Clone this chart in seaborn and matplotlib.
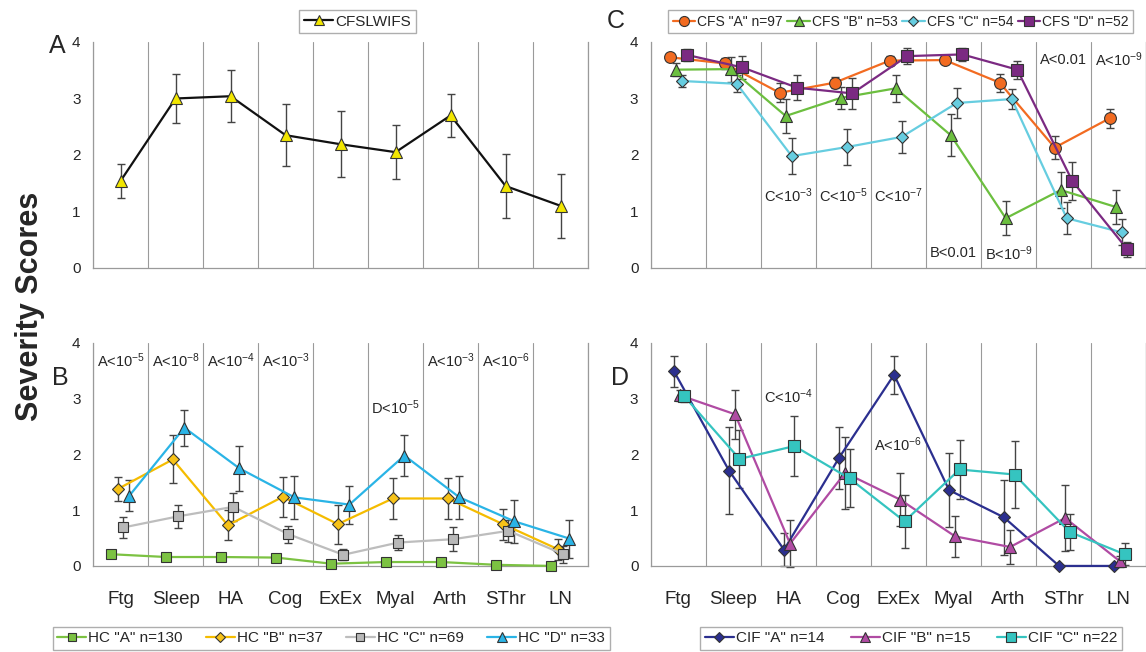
import matplotlib
matplotlib.use("Agg")
import matplotlib.pyplot as plt
from matplotlib.ticker import FixedLocator, MultipleLocator
import numpy as np
import seaborn as sns

SYMPTOMS = ["Ftg", "Sleep", "HA", "Cog", "ExEx", "Myal", "Arth", "SThr", "LN"]

# panel A
CFSLWIFS_MEAN = [1.54, 3.00, 3.04, 2.35, 2.19, 2.05, 2.70, 1.45, 1.10]
CFSLWIFS_ERR = [0.30, 0.43, 0.46, 0.55, 0.58, 0.48, 0.38, 0.57, 0.57]

# panel C
CFS_A_MEAN = [3.73, 3.62, 3.10, 3.28, 3.67, 3.68, 3.28, 2.13, 2.65]
CFS_A_ERR = [0.05, 0.10, 0.17, 0.10, 0.08, 0.06, 0.16, 0.20, 0.17]
CFS_B_MEAN = [3.51, 3.52, 2.69, 3.01, 3.18, 2.35, 0.88, 1.38, 1.08]
CFS_B_ERR = [0.12, 0.22, 0.30, 0.20, 0.24, 0.37, 0.30, 0.31, 0.30]
CFS_C_MEAN = [3.31, 3.26, 1.98, 2.14, 2.32, 2.92, 2.99, 0.88, 0.63]
CFS_C_ERR = [0.11, 0.15, 0.32, 0.32, 0.29, 0.26, 0.17, 0.28, 0.23]
CFS_D_MEAN = [3.77, 3.55, 3.19, 3.09, 3.75, 3.78, 3.51, 1.54, 0.33]
CFS_D_ERR = [0.11, 0.21, 0.22, 0.27, 0.14, 0.12, 0.16, 0.33, 0.13]

# panel B
HC_A_MEAN = [0.21, 0.16, 0.16, 0.15, 0.04, 0.07, 0.07, 0.02, 0.00]
HC_A_ERR = [0.06, 0.04, 0.04, 0.05, 0.02, 0.02, 0.02, 0.02, 0.00]
HC_B_MEAN = [1.38, 1.91, 0.73, 1.24, 0.75, 1.21, 1.21, 0.75, 0.30]
HC_B_ERR = [0.22, 0.43, 0.27, 0.36, 0.35, 0.37, 0.36, 0.28, 0.19]
HC_C_MEAN = [0.69, 0.89, 1.06, 0.57, 0.20, 0.42, 0.48, 0.63, 0.21]
HC_C_ERR = [0.18, 0.21, 0.25, 0.15, 0.10, 0.13, 0.21, 0.20, 0.15]
HC_D_MEAN = [1.26, 2.48, 1.75, 1.23, 1.10, 1.98, 1.23, 0.80, 0.49]
HC_D_ERR = [0.28, 0.32, 0.40, 0.39, 0.34, 0.37, 0.39, 0.38, 0.34]

# panel D
CIF_A_MEAN = [3.49, 1.71, 0.29, 1.94, 3.43, 1.36, 0.87, 0.00, 0.00]
CIF_A_ERR = [0.28, 0.78, 0.30, 0.56, 0.34, 0.67, 0.67, 0.00, 0.00]
CIF_B_MEAN = [3.06, 2.72, 0.40, 1.67, 1.19, 0.53, 0.34, 0.86, 0.08]
CIF_B_ERR = [0.10, 0.44, 0.42, 0.64, 0.48, 0.37, 0.30, 0.60, 0.10]
CIF_C_MEAN = [3.04, 1.92, 2.15, 1.57, 0.80, 1.73, 1.64, 0.61, 0.21]
CIF_C_ERR = [0.10, 0.52, 0.54, 0.52, 0.48, 0.53, 0.60, 0.33, 0.20]

EDGE = "#333333"

PANEL_A = [("CFSLWIFS", CFSLWIFS_MEAN, CFSLWIFS_ERR, "#111111", "#f2e600", "^", 9)]
PANEL_C = [
    ('CFS "A" n=97', CFS_A_MEAN, CFS_A_ERR, "#f26b21", "#f26b21", "o", 8.5),
    ('CFS "B" n=53', CFS_B_MEAN, CFS_B_ERR, "#6cbf3f", "#6cbf3f", "^", 9),
    ('CFS "C" n=54', CFS_C_MEAN, CFS_C_ERR, "#66cde0", "#66cde0", "D", 6.5),
    ('CFS "D" n=52', CFS_D_MEAN, CFS_D_ERR, "#7b2a82", "#7b2a82", "s", 8),
]
PANEL_B = [
    ('HC "A" n=130', HC_A_MEAN, HC_A_ERR, "#7cc242", "#7cc242", "s", 7.5),
    ('HC "B" n=37', HC_B_MEAN, HC_B_ERR, "#f5bc00", "#f7c218", "D", 6.5),
    ('HC "C" n=69', HC_C_MEAN, HC_C_ERR, "#bdbdbd", "#b8b8b8", "s", 7.5),
    ('HC "D" n=33', HC_D_MEAN, HC_D_ERR, "#2ab4e6", "#2ab4e6", "^", 9),
]
PANEL_D = [
    ('CIF "A" n=14', CIF_A_MEAN, CIF_A_ERR, "#2b2f8f", "#2b2f8f", "D", 6.5),
    ('CIF "B" n=15', CIF_B_MEAN, CIF_B_ERR, "#b04ba3", "#b04ba3", "^", 9),
    ('CIF "C" n=22', CIF_C_MEAN, CIF_C_ERR, "#35c4c0", "#35c4c0", "s", 8),
]

NOTES_B = [(0, 3.68, r"A<10$^{-5}$"), (1, 3.68, r"A<10$^{-8}$"), (2, 3.68, r"A<10$^{-4}$"),
           (3, 3.68, r"A<10$^{-3}$"), (6, 3.68, r"A<10$^{-3}$"), (7, 3.68, r"A<10$^{-6}$"),
           (5, 2.84, r"D<10$^{-5}$")]
NOTES_C = [(2, 1.28, r"C<10$^{-3}$"), (3, 1.28, r"C<10$^{-5}$"), (4, 1.28, r"C<10$^{-7}$"),
           (5, 0.26, "B<0.01"), (6, 0.26, r"B<10$^{-9}$"),
           (7, 3.68, "A<0.01"), (8, 3.68, r"A<10$^{-9}$")]
NOTES_D = [(2, 3.03, r"C<10$^{-4}$"), (4, 2.17, r"A<10$^{-6}$")]


def draw_panel(ax, series, offsets, notes, show_labels):
    base = np.arange(len(SYMPTOMS))
    for (label, mean, err, line_color, face, marker, size), off in zip(series, offsets):
        xs = base + off
        ax.errorbar(xs, mean, yerr=err, fmt="none", ecolor="#444444",
                    elinewidth=1.0, capsize=3, capthick=1.0, zorder=2, clip_on=False)
        sns.lineplot(x=xs, y=mean, ax=ax, color=line_color, linewidth=1.6,
                     marker=marker, markersize=size, markerfacecolor=face,
                     markeredgecolor=EDGE, markeredgewidth=0.8, label=label,
                     legend=False, zorder=3, clip_on=False)
    for i, y, txt in notes:
        ax.text(i, y, txt, ha="center", va="center", fontsize=10.5, zorder=4)

    ax.set_xlim(-0.5, len(SYMPTOMS) - 0.5)
    ax.set_ylim(0, 4)
    ax.set_xlabel("")
    ax.set_ylabel("")
    ax.yaxis.set_major_locator(MultipleLocator(1))
    ax.yaxis.set_minor_locator(MultipleLocator(0.5))
    ax.xaxis.set_major_locator(FixedLocator(base))
    ax.xaxis.set_minor_locator(FixedLocator(np.arange(len(SYMPTOMS) + 1) - 0.5))
    ax.set_xticklabels(SYMPTOMS if show_labels else [""] * len(SYMPTOMS))
    ax.tick_params(axis="x", which="major", length=0, pad=18, labelsize=13.5)
    ax.tick_params(axis="x", which="minor", length=5, color="#999999", direction="out")
    ax.tick_params(axis="y", which="both", length=5, color="#999999", direction="out",
                   labelsize=11, pad=4)
    ax.grid(False)
    ax.grid(True, axis="x", which="minor", color="#9a9a9a", linewidth=0.8)
    for side in ["left", "bottom", "right"]:
        ax.spines[side].set_color("#9a9a9a")
        ax.spines[side].set_linewidth(0.9)
    ax.spines["top"].set_visible(False)
    ax.set_facecolor("white")


def add_legend(fig, ax, x, y, spacing, size=11, handle=1.9):
    handles, labels = ax.get_legend_handles_labels()
    fig.legend(handles, labels, loc="center", bbox_to_anchor=(x, y), ncol=len(labels),
               frameon=True, fancybox=False, edgecolor="#9a9a9a", fontsize=size,
               handlelength=handle, handletextpad=0.15, columnspacing=spacing,
               borderpad=0.3, borderaxespad=0, markerscale=0.85)


sns.set_theme(style="white")
plt.rcParams["font.family"] = ["Liberation Sans", "DejaVu Sans"]
plt.rcParams["mathtext.default"] = "regular"

fig = plt.figure(figsize=(11.46, 6.52), dpi=100)
ax_a = fig.add_axes([0.0812, 0.589, 0.432, 0.3466])
ax_c = fig.add_axes([0.568, 0.589, 0.432, 0.3466])
ax_b = fig.add_axes([0.0812, 0.132, 0.432, 0.342])
ax_d = fig.add_axes([0.568, 0.132, 0.432, 0.342])

draw_panel(ax_a, PANEL_A, [0.0], [], False)
draw_panel(ax_c, PANEL_C, [-0.16, -0.05, 0.06, 0.16], NOTES_C, False)
draw_panel(ax_b, PANEL_B, [-0.17, -0.05, 0.05, 0.16], NOTES_B, True)
draw_panel(ax_d, PANEL_D, [-0.08, 0.03, 0.11], NOTES_D, True)

add_legend(fig, ax_a, 0.312, 0.967, 1.0)
add_legend(fig, ax_c, 0.786, 0.967, 0.35, size=10, handle=1.6)
add_legend(fig, ax_b, 0.289, 0.021, 1.5)
add_legend(fig, ax_d, 0.795, 0.021, 1.7)

for letter, x, y in [("A", 0.05, 0.93), ("C", 0.5375, 0.968), ("B", 0.053, 0.42), ("D", 0.541, 0.42)]:
    fig.text(x, y, letter, fontsize=18, ha="center", va="center")

fig.text(0.026, 0.53, "Severity Scores", rotation=90, fontsize=22, fontweight="bold",
         ha="center", va="center")

fig.savefig("out.png", dpi=100)
